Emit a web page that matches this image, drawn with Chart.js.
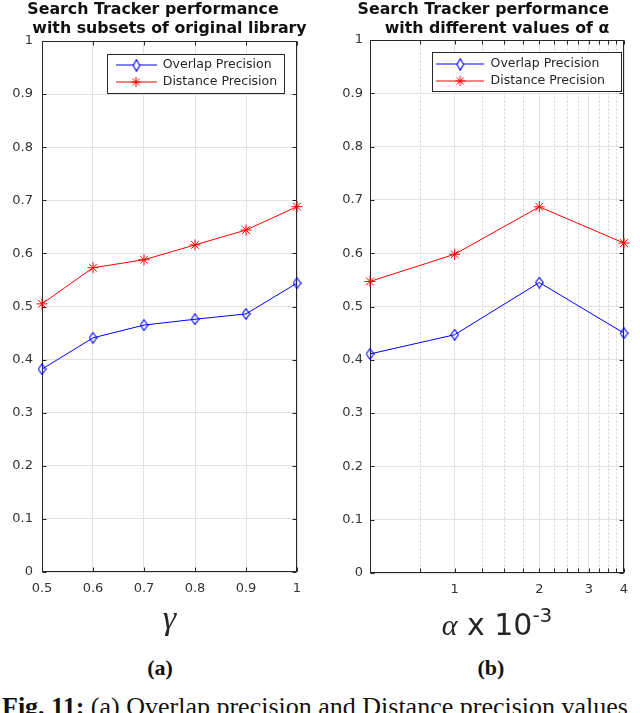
<!DOCTYPE html>
<html>
<head>
<meta charset="utf-8">
<title>Search Tracker performance</title>
<script src="https://cdn.jsdelivr.net/npm/chart.js@4.4.1/dist/chart.umd.min.js"></script>
<style>
  html, body { margin: 0; padding: 0; background: #fff; }
  body { width: 640px; height: 713px; position: relative; overflow: hidden; }
  canvas { position: absolute; top: 0; }
  #chartA { left: 0; }
  #chartB { left: 320px; }
  .sub { position: absolute; top: 655px; width: 100px; text-align: center;
         font: bold 22px "Liberation Serif", "Times New Roman", serif; color: #111; }
  #subA { left: 110px; }
  #subB { left: 441px; }
  #caption { position: absolute; left: 2px; top: 692px; white-space: nowrap; line-height: 1;
             font: 26px "Liberation Serif", "Times New Roman", serif; color: #111; }
</style>
</head>
<body>
<canvas id="chartA" width="320" height="645"></canvas>
<canvas id="chartB" width="320" height="645"></canvas>
<div class="sub" id="subA">(a)</div>
<div class="sub" id="subB">(b)</div>
<div id="caption"><b>Fig. 11:</b> (a) Overlap precision and Distance precision values</div>
<script>
// ---- data ----
const seriesNames = ['Overlap Precision', 'Distance Precision'];

// (a) subsets of the original library
const gammaValues = [0.5, 0.6, 0.7, 0.8, 0.9, 1];
const overlapByGamma = [0.382, 0.441, 0.465, 0.476, 0.486, 0.544];
const distanceByGamma = [0.505, 0.573, 0.588, 0.616, 0.644, 0.688];

// (b) different values of alpha (x 10^-3)
const alphaValues = [0.5, 1, 2, 4];
const overlapByAlpha = [0.411, 0.447, 0.545, 0.450];
const distanceByAlpha = [0.547, 0.598, 0.687, 0.619];

// ticks
const yTicks = [0, 0.1, 0.2, 0.3, 0.4, 0.5, 0.6, 0.7, 0.8, 0.9, 1];
const gammaTicks = [0.5, 0.6, 0.7, 0.8, 0.9, 1];
const alphaTicks = [0.5, 0.75, 1, 1.25, 1.5, 1.75, 2, 2.25, 2.5, 2.75, 3, 3.25, 3.5, 3.75, 4];
const alphaLabelled = [1, 2, 3, 4];

// ---- styling ----
const BLUE = '#0000ff';
const RED = '#ff0000';
const AXIS = '#262626';
const GRID = '#e2e2e2';
const MINOR = '#d4d4d4';
const FONT = '"DejaVu Sans", Verdana, sans-serif';

function diamondMarker(w, h, color) {
  const c = document.createElement('canvas');
  c.width = w; c.height = h;
  const g = c.getContext('2d');
  g.strokeStyle = color; g.lineWidth = 1.1;
  g.beginPath();
  g.moveTo(w / 2, 0.7); g.lineTo(w - 0.7, h / 2); g.lineTo(w / 2, h - 0.7); g.lineTo(0.7, h / 2);
  g.closePath(); g.stroke();
  return c;
}

function drawStar(g, cx, cy, r, color) {
  g.strokeStyle = color; g.lineWidth = 1;
  g.beginPath();
  for (let k = 0; k < 4; k++) {
    const a = k * Math.PI / 4;
    g.moveTo(cx - r * Math.cos(a), cy - r * Math.sin(a));
    g.lineTo(cx + r * Math.cos(a), cy + r * Math.sin(a));
  }
  g.stroke();
}

const diamondPoint = diamondMarker(9, 12, BLUE);

// legend swatch: line with the marker on it
function legendIcon(width, color, kind) {
  const c = document.createElement('canvas');
  c.width = width; c.height = 14;
  const g = c.getContext('2d');
  g.strokeStyle = color; g.lineWidth = 1;
  g.beginPath(); g.moveTo(0, 7); g.lineTo(width, 7); g.stroke();
  if (kind === 'diamond') {
    const d = diamondMarker(8, 13, color);
    g.clearRect(width / 2 - 3, 2, 6, 10);
    g.drawImage(d, Math.round(width / 2 - 4), 1);
  } else {
    drawStar(g, width / 2, 7, 5, color);
  }
  return c;
}

function makeDatasets(xs, overlap, distance) {
  return [{
    label: seriesNames[0],
    data: xs.map((x, i) => ({ x: x, y: overlap[i] })),
    borderColor: BLUE, borderWidth: 1,
    pointStyle: diamondPoint, pointRadius: 5,
    pointBorderColor: BLUE, pointBackgroundColor: 'transparent',
    clip: false
  }, {
    label: seriesNames[1],
    data: xs.map((x, i) => ({ x: x, y: distance[i] })),
    borderColor: RED, borderWidth: 1,
    pointStyle: 'star', pointRadius: 5.5, pointBorderWidth: 1,
    pointBorderColor: RED, pointBackgroundColor: RED,
    clip: false
  }];
}

// MATLAB-like frame: box, inward ticks, dashed minor grid, boxed legend
const matlabFrame = {
  id: 'matlabFrame',
  afterLayout(chart, args, opts) {
    const lg = chart.legend, ca = chart.chartArea, b = opts.legendBox;
    const pad = lg.options.labels.padding;
    lg.left = ca.left + b.x + b.insetX - pad;
    lg.top = ca.top + b.y + b.insetY - pad;
    lg.right = lg.left + b.w + 20;
    lg.bottom = lg.top + b.h + 20;
    // let the title run wider than the plot (same centre) so it is not squeezed
    const tb = chart.titleBlock;
    if (tb) { tb.left -= 60; tb.right += 60; tb.width = tb.right - tb.left; }
  },
  beforeDatasetsDraw(chart, args, opts) {
    const { ctx, chartArea: ca, scales } = chart;
    const L = Math.round(ca.left) + 0.5, R = Math.round(ca.right) - 0.5;
    const T = Math.round(ca.top) + 0.5, B = Math.round(ca.bottom) - 0.5;
    ctx.save();
    // dashed minor grid
    if (opts.minor) {
      ctx.strokeStyle = MINOR; ctx.lineWidth = 1; ctx.setLineDash([2, 2]);
      opts.minor.forEach(v => {
        const x = Math.round(scales.x.getPixelForValue(v)) + 0.5;
        ctx.beginPath(); ctx.moveTo(x, T); ctx.lineTo(x, B); ctx.stroke();
      });
      ctx.setLineDash([]);
    }
    // frame
    ctx.strokeStyle = AXIS; ctx.lineWidth = 1;
    ctx.strokeRect(L, T, R - L, B - T);
    // inward ticks
    const tl = 4;
    ctx.beginPath();
    scales.x.ticks.forEach(t => {
      const x = Math.round(scales.x.getPixelForValue(t.value)) + 0.5;
      ctx.moveTo(x, B); ctx.lineTo(x, B - tl);
      ctx.moveTo(x, T); ctx.lineTo(x, T + tl);
    });
    scales.y.ticks.forEach(t => {
      const y = Math.round(scales.y.getPixelForValue(t.value)) + 0.5;
      ctx.moveTo(L, y); ctx.lineTo(L + tl, y);
      ctx.moveTo(R, y); ctx.lineTo(R - tl, y);
    });
    ctx.stroke();
    // legend box
    const b = opts.legendBox;
    const bx = Math.round(ca.left + b.x) + 0.5, by = Math.round(ca.top + b.y) + 0.5;
    ctx.fillStyle = '#fff';
    ctx.fillRect(bx, by, b.w, b.h);
    ctx.strokeRect(bx, by, b.w, b.h);
    ctx.restore();
    chart.legend.draw();
  },
  afterDraw(chart, args, opts) {
    if (!opts.alphaTitle) return;
    const { ctx, chartArea: ca } = chart;
    const parts = [
      { t: 'α', font: 'italic 30px "Liberation Serif", serif', dy: 0 },
      { t: ' x 10', font: '30px ' + FONT, dy: 0 },
      { t: '-3', font: '20px ' + FONT, dy: -13 }
    ];
    ctx.save();
    ctx.fillStyle = AXIS; ctx.textBaseline = 'alphabetic'; ctx.textAlign = 'left';
    let total = 0;
    parts.forEach(p => { ctx.font = p.font; p.w = ctx.measureText(p.t).width; total += p.w; });
    let x = (ca.left + ca.right) / 2 - total / 2;
    const base = ca.bottom + 62;
    parts.forEach(p => { ctx.font = p.font; ctx.fillText(p.t, x, base + p.dy); x += p.w; });
    ctx.restore();
  }
};

function baseOptions(cfg) {
  return {
    responsive: false,
    animation: false,
    events: [],
    layout: { padding: { left: 0, right: cfg.padRight, top: 0, bottom: 0 } },
    scales: {
      x: cfg.x,
      y: {
        type: 'linear', min: 0, max: 1,
        afterBuildTicks: axis => { axis.ticks = yTicks.map(v => ({ value: v })); },
        afterFit: axis => { axis.width = cfg.yWidth; },
        grid: { color: GRID, lineWidth: 1, drawTicks: false },
        border: { display: false },
        ticks: { padding: cfg.yPad, color: '#333', font: { family: FONT, size: 13 }, callback: v => String(v) }
      }
    },
    plugins: {
      title: {
        display: true, fullSize: false, text: cfg.title, color: '#111',
        font: { family: FONT, size: 15.8, weight: 'bold', lineHeight: '19px' },
        padding: { top: 0, bottom: cfg.titleGap }
      },
      legend: {
        position: 'chartArea', align: 'start',
        labels: {
          usePointStyle: true, pointStyleWidth: cfg.iconWidth, padding: 4.5,
          color: AXIS, font: { family: FONT, size: 12.5 },
          generateLabels: chart => {
            const items = Chart.defaults.plugins.legend.labels.generateLabels(chart);
            return items.map((it, i) => Object.assign(it, { pointStyle: cfg.icons[i], fontColor: AXIS }));
          }
        }
      },
      tooltip: { enabled: false },
      matlabFrame: cfg.frame
    }
  };
}

const xTickFont = { family: FONT, size: 13 };

new Chart(document.getElementById('chartA'), {
  type: 'line',
  data: { datasets: makeDatasets(gammaValues, overlapByGamma, distanceByGamma) },
  options: baseOptions({
    padRight: 23, yWidth: 42, yPad: 9, titleGap: 3, iconWidth: 41,
    title: ['Search Tracker performance      ', 'with subsets of original library'],
    icons: [legendIcon(41, BLUE, 'diamond'), legendIcon(41, RED, 'star')],
    frame: { legendBox: { x: 65, y: 13, w: 177, h: 39, insetX: 8.5, insetY: 4.75 } },
    x: {
      type: 'linear', min: 0.5, max: 1,
      afterBuildTicks: axis => { axis.ticks = gammaTicks.map(v => ({ value: v })); },
      afterFit: axis => { axis.height = 73; },
      grid: { color: GRID, lineWidth: 1, drawTicks: false },
      border: { display: false },
      ticks: { padding: 9, color: '#333', font: xTickFont, maxRotation: 0, autoSkip: false, callback: v => String(v) },
      title: { display: true, text: 'γ', color: AXIS, font: { family: '"Liberation Serif", serif', style: 'italic', size: 34, lineHeight: 1 }, padding: { top: 0, bottom: 8 } }
    }
  }),
  plugins: [matlabFrame]
});

new Chart(document.getElementById('chartB'), {
  type: 'line',
  data: { datasets: makeDatasets(alphaValues, overlapByAlpha, distanceByAlpha) },
  options: baseOptions({
    padRight: 16, yWidth: 50, yPad: 7, titleGap: 2, iconWidth: 48,
    title: ['Search Tracker performance     ', 'with different values of α'],
    icons: [legendIcon(48, BLUE, 'diamond'), legendIcon(48, RED, 'star')],
    frame: {
      legendBox: { x: 62, y: 12, w: 189, h: 39, insetX: 4.3, insetY: 5.75 },
      minor: alphaTicks.filter(v => !alphaLabelled.includes(v) && v !== alphaTicks[0]),
      alphaTitle: true
    },
    x: {
      type: 'logarithmic', min: 0.5, max: 4,
      afterBuildTicks: axis => { axis.ticks = alphaTicks.map(v => ({ value: v })); },
      afterFit: axis => { axis.height = 72; },
      grid: {
        color: c => (c.tick && alphaLabelled.includes(c.tick.value)) ? GRID : 'transparent',
        lineWidth: 1, drawTicks: false
      },
      border: { display: false },
      ticks: {
        padding: 9, color: '#333', font: xTickFont, maxRotation: 0, autoSkip: false,
        callback: v => alphaLabelled.includes(v) ? String(v) : ''
      }
    }
  }),
  plugins: [matlabFrame]
});
</script>
</body>
</html>
